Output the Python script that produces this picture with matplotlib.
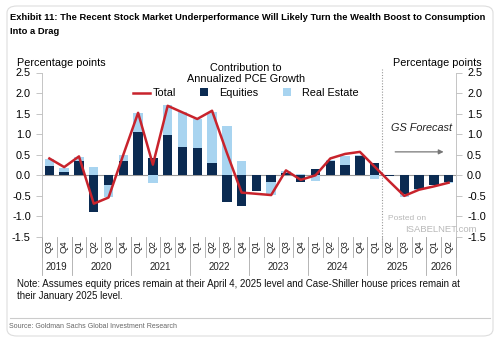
import matplotlib
matplotlib.use("Agg")
import matplotlib.pyplot as plt
from matplotlib.lines import Line2D
from matplotlib.patches import Patch, FancyBboxPatch
import numpy as np

quarters = ["Q3", "Q4",
            "Q1", "Q2", "Q3", "Q4",
            "Q1", "Q2", "Q3", "Q4",
            "Q1", "Q2", "Q3", "Q4",
            "Q1", "Q2", "Q3", "Q4",
            "Q1", "Q2", "Q3", "Q4",
            "Q1", "Q2", "Q3", "Q4",
            "Q1", "Q2"]
years = ["2019", "2020", "2021", "2022", "2023", "2024", "2025", "2026"]
year_counts = [2, 4, 4, 4, 4, 4, 4, 2]

equities = [0.22, 0.08, 0.36, -0.89, -0.23, 0.34, 1.06, 0.43, 0.99, 0.69, 0.66, 0.29,
            -0.66, -0.75, -0.39, -0.16, 0.06, -0.16, 0.16, 0.34, 0.26, 0.47,
            0.29, -0.02, -0.45, -0.34, -0.23, -0.17]
real_estate = [0.18, 0.10, 0.08, 0.20, -0.29, 0.16, 0.46, -0.19, 0.71, 0.86, 0.71, 1.26,
               1.20, 0.34, 0.00, -0.31, 0.04, 0.02, -0.15, 0.03, 0.22, 0.02,
               -0.08, 0.00, -0.07, -0.02, -0.01, -0.01]
total = [0.41, 0.20, 0.46, -0.69, -0.54, 0.50, 1.52, 0.26, 1.69, 1.53, 1.37, 1.57,
         0.55, -0.42, -0.45, -0.48, 0.12, -0.11, 0.00, 0.41, 0.52, 0.57,
         0.21, -0.15, -0.50, -0.35, -0.27, -0.18]

navy = "#0b2b52"
light = "#a8d4f0"
red = "#c8232c"

plt.rcParams['font.family'] = ['Liberation Sans', 'DejaVu Sans']

fig = plt.figure(figsize=(5.0, 3.42), dpi=100)
W, H = 500, 342

# card border
card = FancyBboxPatch((7 / W, 6 / H), 486 / W, 330 / H,
                      boxstyle="round,pad=0,rounding_size=0.02",
                      transform=fig.transFigure, facecolor="none",
                      edgecolor="#dddddd", linewidth=0.8, zorder=-5)
fig.patches.append(card)

ax_left, ax_right = 42 / W, 456 / W
ax_bottom, ax_top = (H - 237) / H, (H - 72.5) / H
ax = fig.add_axes([ax_left, ax_bottom, ax_right - ax_left, ax_top - ax_bottom])
ax.set_facecolor("none")

x = np.arange(len(quarters))
eq = np.array(equities)
re = np.array(real_estate)
# stacking: same sign stacks on equities, opposite sign starts at zero
re_bottom = np.where(np.sign(re) == np.sign(eq), eq, 0.0)
bw = 0.64
ax.bar(x, eq, width=bw, color=navy, zorder=3)
ax.bar(x, re, bottom=re_bottom, width=bw, color=light, zorder=2)
ax.plot(x, total, color=red, lw=1.8, zorder=4)

ax.axhline(0, color="#999999", lw=0.8, zorder=1)
ax.set_xlim(-0.5, len(quarters) - 0.5)
ax.set_ylim(-1.5, 2.5)
yt = np.arange(-1.5, 2.51, 0.5)
ax.set_yticks(yt)
ax.set_yticklabels([f"{v:.1f}" for v in yt], fontsize=7.8)
ax.tick_params(axis="y", which="both", direction="out", length=4, width=0.6,
               color="#bbbbbb", pad=4, labelright=True, right=True)
ax.set_xticks([])
for s in ["top", "bottom"]:
    ax.spines[s].set_visible(False)
for s in ["left", "right"]:
    ax.spines[s].set_color("#bbbbbb")
    ax.spines[s].set_linewidth(0.6)

# forecast divider
ax.axvline(22.5, color="#999999", lw=0.8, ls=(0, (1, 1.5)), ymin=-0.05, ymax=1.02,
           clip_on=False, zorder=1)

# x axis category labels
tr = ax.get_xaxis_transform()
ah = 237 - 72.5
q_bot = -(257 - 237) / ah
y_bot = -(275 - 237) / ah
for i, q in enumerate(quarters):
    ax.text(i, -(246.5 - 237) / ah, q, rotation=90, ha="center", va="center",
            fontsize=6.8, color="#222222", transform=tr)
for i in range(len(quarters) + 1):
    ax.plot([i - 0.5, i - 0.5], [0, q_bot], transform=tr, color="#aaaaaa",
            lw=0.6, clip_on=False)
pos = -0.5
for yl, n in zip(years, year_counts):
    ax.plot([pos, pos], [0, y_bot], transform=tr, color="#aaaaaa", lw=0.6, clip_on=False)
    ax.text(pos + n / 2, -(267.5 - 237) / ah, yl, ha="center", va="center",
            fontsize=7, color="#222222", transform=tr)
    pos += n
ax.plot([pos, pos], [0, y_bot], transform=tr, color="#aaaaaa", lw=0.6, clip_on=False)

# legend
handles = [Line2D([0], [0], color=red, lw=1.8),
           Patch(facecolor=navy), Patch(facecolor=light)]
leg = fig.legend(handles, ["Total", "Equities", "Real Estate"], ncol=3,
                 loc="upper center", bbox_to_anchor=(246 / W, 1 - 55 / H),
                 frameon=False, fontsize=7.8, title="Contribution to\nAnnualized PCE Growth",
                 title_fontsize=7.8, handlelength=1.5, handleheight=0.7,
                 handletextpad=0.3, columnspacing=2.2, borderpad=0.2, labelspacing=0.2)
leg.get_title().set_multialignment("center")
leg._legend_box.sep = 3
for h in leg.legend_handles[1:]:
    h.set_width(6)
    h.set_height(6)

# labels
fig.text(17 / W, 1 - 63 / H, "Percentage points", fontsize=7.8, ha="left", va="center")
fig.text(482 / W, 1 - 63 / H, "Percentage points", fontsize=7.8, ha="right", va="center")

fig.text(10 / W, 1 - 17 / H, "Exhibit 11: The Recent Stock Market Underperformance Will Likely Turn the Wealth Boost to Consumption",
         fontsize=6.75, fontweight="bold", ha="left", va="center")
fig.text(10 / W, 1 - 31 / H, "Into a Drag",
         fontsize=6.75, fontweight="bold", ha="left", va="center")

# GS forecast
ax.text(25.15, 1.16, "GS Forecast", fontsize=7.8, style="italic", ha="center", va="center",
        color="#222222")
ax.annotate("", xy=(26.85, 0.57), xytext=(23.2, 0.57),
            arrowprops=dict(arrowstyle="-|>", color="#777777", lw=0.9,
                            mutation_scale=7))

# watermark
fig.text(388 / W, 1 - 218 / H, "Posted on", fontsize=6, color="#b8b8b8", ha="left", va="center")
fig.text(405 / W, 1 - 230 / H, "ISABELNET.com", fontsize=6.8, color="#b8b8b8", ha="left", va="center")

# note
fig.text(17 / W, 1 - 284 / H, "Note: Assumes equity prices remain at their April 4, 2025 level and Case-Shiller house prices remain at",
         fontsize=7.05, ha="left", va="center", color="#111111")
fig.text(17 / W, 1 - 296 / H, "their January 2025 level.",
         fontsize=7.05, ha="left", va="center", color="#111111")

# separator + source
fig.add_artist(Line2D([10 / W, 490 / W], [1 - 318 / H, 1 - 318 / H], color="#cccccc", lw=0.8))
fig.text(9 / W, 1 - 327 / H, "Source: Goldman Sachs Global Investment Research",
         fontsize=5.0, color="#666666", ha="left", va="center")

fig.savefig("out.png", dpi=100)
